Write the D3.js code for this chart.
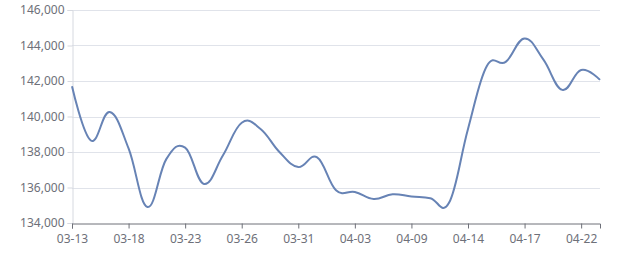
<!DOCTYPE html>
<html>
<head>
<meta charset="utf-8">
<script src="https://cdn.jsdelivr.net/npm/d3@7"></script>
<style>
  body { margin: 0; background: #fff; }
  svg text { font-family: "Noto Sans", "DejaVu Sans", sans-serif; }
</style>
</head>
<body>
<div id="chart"></div>
<script>
// categories (trading days)
var dates = ["03-13","03-14","03-17","03-18","03-19","03-20","03-23","03-24","03-25","03-26",
  "03-27","03-30","03-31","04-01","04-02","04-03","04-07","04-08","04-09","04-10",
  "04-13","04-14","04-15","04-16","04-17","04-20","04-21","04-22","04-23"];
// series values
var values = [141700,138650,140250,138200,134900,137600,138250,136200,137800,139650,
  139300,138000,137150,137700,135850,135750,135350,135620,135490,135400,
  135150,139300,142850,143080,144400,143200,141500,142620,142060];
var yTicks = [134000,136000,138000,140000,142000,144000,146000];
var labelEvery = 3;

var width = 640, height = 270;
var margin = {top:10, right:40, bottom:47, left:72};
var innerW = width - margin.left - margin.right;
var innerH = height - margin.top - margin.bottom;

var svg = d3.select("#chart").append("svg")
  .attr("width", width)
  .attr("height", height);

var g = svg.append("g")
  .attr("transform", "translate(" + margin.left + "," + margin.top + ")");

var x = d3.scalePoint()
  .domain(dates)
  .range([0, innerW]);
var y = d3.scaleLinear()
  .domain([134000, 146000])
  .range([innerH, 0]);

// gridlines
g.selectAll(".grid")
  .data(yTicks.slice(1)).enter()
  .append("line")
  .attr("class", "grid")
  .attr("x1", 0).attr("x2", innerW)
  .attr("y1", d => Math.round(y(d)) + 0.5)
  .attr("y2", d => Math.round(y(d)) + 0.5)
  .style("stroke", "#e0e3ea")
  .style("stroke-width", 1);

// y axis
var yAxis = g.append("g")
  .attr("transform", "translate(0.5,0)")
  .call(d3.axisLeft(y).tickValues(yTicks).tickSize(5).tickPadding(3)
    .tickFormat(d3.format(",")));
yAxis.select(".domain").style("stroke", "#d6d9e0");
yAxis.selectAll(".tick line").style("stroke", "#d6d9e0");
yAxis.selectAll(".tick text")
  .style("fill", "#6e7079").style("font-size", "12px");

// x axis
var xAxis = g.append("g")
  .attr("transform", "translate(0," + (Math.round(innerH) + 0.5) + ")")
  .call(d3.axisBottom(x)
    .tickValues(dates.filter((d, i) => i % labelEvery == 0))
    .tickSizeOuter(0).tickSize(5).tickPadding(6));
xAxis.select(".domain").style("stroke", "#6e7079");
xAxis.selectAll(".tick line").style("stroke", "#6e7079");
xAxis.selectAll(".tick text")
  .style("fill", "#6e7079").style("font-size", "12px");

// line
var line = d3.line()
  .curve(d3.curveCardinal.tension(-0.2))
  .x((d, i) => x(dates[i]))
  .y(d => y(d));

g.append("path")
  .datum(values)
  .attr("d", line)
  .style("fill", "none")
  .style("stroke", "#6783b5")
  .style("stroke-width", 2);
</script>
</body>
</html>
